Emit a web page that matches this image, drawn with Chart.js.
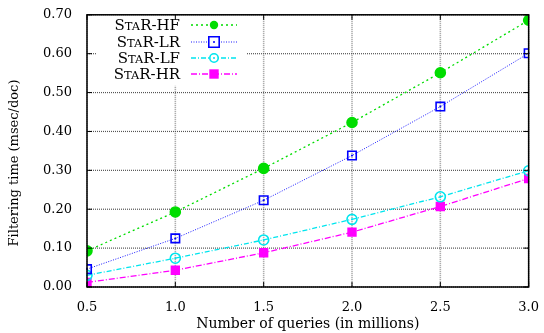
<!DOCTYPE html>
<html>
<head>
<meta charset="utf-8">
<script src="https://cdn.jsdelivr.net/npm/chart.js@4"></script>
<style>
  html, body { margin: 0; padding: 0; background: #fff; }
  #wrap { width: 544px; height: 333px; }
</style>
</head>
<body>
<div id="wrap"><canvas id="c" width="544" height="333"></canvas></div>
<script>
const queries = [0.5, 1.0, 1.5, 2.0, 2.5, 3.0];
const starHF = [0.093, 0.193, 0.305, 0.423, 0.551, 0.686];
const starLR = [0.046, 0.125, 0.223, 0.338, 0.464, 0.601];
const starLF = [0.030, 0.074, 0.121, 0.174, 0.232, 0.299];
const starHR = [0.012, 0.043, 0.088, 0.141, 0.207, 0.279];
const seriesNames = ["HF", "LR", "LF", "HR"];
const xTicks = [0.5, 1.0, 1.5, 2.0, 2.5, 3.0];
const yTicks = [0, 0.1, 0.2, 0.3, 0.4, 0.5, 0.6, 0.7];

const FONT = "'DejaVu Serif', 'Liberation Serif', serif";

const pts = (ys) => queries.map((x, i) => ({ x: x, y: ys[i] }));

const styles = [
  { color: "#00dd00", dash: [2, 3], width: 1.3, point: "circle", radius: 5, fill: true },
  { color: "#0000ff", dash: [1, 1.5], width: 0.9, point: "rect", radius: 6, fill: false },
  { color: "#00e5ee", dash: [5, 2, 1, 2], width: 1.3, point: "circle", radius: 5, fill: false },
  { color: "#ff00ff", dash: [6, 2, 1, 2], width: 1.3, point: "rect", radius: 5.5, fill: true },
];
const seriesData = [starHF, starLR, starLF, starHR];

// draws "StaR-xx" with small caps by hand, right aligned at x
function smallCapsLabel(ctx, suffix, right, y) {
  const big = "15px " + FONT, small = "11.5px " + FONT;
  const parts = [["S", big], ["TA", small], ["R-" + suffix, big]];
  let total = 0;
  parts.forEach(p => { ctx.font = p[1]; total += ctx.measureText(p[0]).width; });
  let x = right - total;
  ctx.textAlign = "left";
  ctx.textBaseline = "alphabetic";
  parts.forEach(p => {
    ctx.font = p[1];
    ctx.fillText(p[0], x, y + 5);
    x += ctx.measureText(p[0]).width;
  });
}

// gnuplot-like dotted grid, drawn under the data lines
const dotGrid = {
  id: "dotGrid",
  beforeDatasetsDraw(chart) {
    const ctx = chart.ctx;
    const a = chart.chartArea;
    const xs = chart.scales.x, ys = chart.scales.y;
    ctx.save();
    ctx.setLineDash([1, 1]);
    ctx.strokeStyle = "#9a9a9a";
    ctx.lineWidth = 1.6;
    xTicks.forEach(v => {
      const x = xs.getPixelForValue(v);
      ctx.beginPath(); ctx.moveTo(x, a.top); ctx.lineTo(x, a.bottom); ctx.stroke();
    });
    ctx.strokeStyle = "#555";
    ctx.lineWidth = 1.2;
    yTicks.forEach(v => {
      const y = ys.getPixelForValue(v);
      ctx.beginPath(); ctx.moveTo(a.left, y); ctx.lineTo(a.right, y); ctx.stroke();
    });
    // the key box hides the grid behind it
    ctx.fillStyle = "#fff";
    ctx.fillRect(97, a.top + 1, 150, 70);
    ctx.restore();
  }
};

// frame, inward ticks, centre dots, legend and y title
const frame = {
  id: "gnuframe",
  afterDatasetsDraw(chart) {
    const ctx = chart.ctx;
    const a = chart.chartArea;
    const xs = chart.scales.x, ys = chart.scales.y;
    ctx.save();
    [1, 2].forEach(di => {
      const meta = chart.getDatasetMeta(di);
      ctx.fillStyle = styles[di].color;
      meta.data.forEach(p => {
        ctx.beginPath();
        ctx.arc(p.x, p.y, 1, 0, Math.PI * 2);
        ctx.fill();
      });
    });
    ctx.strokeStyle = "#000";
    ctx.lineWidth = 1.5;
    ctx.setLineDash([]);
    ctx.strokeRect(a.left, a.top, a.right - a.left, a.bottom - a.top);
    ctx.lineWidth = 1;
    xTicks.forEach(v => {
      const x = xs.getPixelForValue(v);
      ctx.beginPath();
      ctx.moveTo(x, a.bottom); ctx.lineTo(x, a.bottom - 5);
      ctx.moveTo(x, a.top); ctx.lineTo(x, a.top + 5);
      ctx.stroke();
    });
    yTicks.forEach(v => {
      const y = ys.getPixelForValue(v);
      ctx.beginPath();
      ctx.moveTo(a.left, y); ctx.lineTo(a.left + 5, y);
      ctx.moveTo(a.right, y); ctx.lineTo(a.right - 5, y);
      ctx.stroke();
    });

    // legend
    const rowY = [25, 42, 58, 74];
    seriesNames.forEach((name, i) => {
      const s = styles[i];
      const y = rowY[i];
      ctx.fillStyle = "#000";
      smallCapsLabel(ctx, name, 180, y);
      ctx.strokeStyle = s.color;
      ctx.lineWidth = s.width;
      ctx.setLineDash(s.dash);
      ctx.beginPath();
      ctx.moveTo(191, y); ctx.lineTo(237, y);
      ctx.stroke();
      ctx.setLineDash([]);
      const mx = 214;
      const r = s.radius - 0.8;
      ctx.lineWidth = 1.6;
      ctx.strokeStyle = s.color;
      ctx.beginPath();
      if (s.point === "circle") ctx.arc(mx, y, r, 0, Math.PI * 2);
      else ctx.rect(mx - r, y - r, r * 2, r * 2);
      if (s.fill) { ctx.fillStyle = s.color; ctx.fill(); }
      else { ctx.fillStyle = "#fff"; ctx.fill(); ctx.stroke(); }
      if (!s.fill) {
        ctx.fillStyle = s.color;
        ctx.beginPath(); ctx.arc(mx, y, 1, 0, Math.PI * 2); ctx.fill();
      }
    });

    // y axis title
    ctx.translate(15, 163);
    ctx.rotate(-Math.PI / 2);
    ctx.font = "13px " + FONT;
    ctx.fillStyle = "#000";
    ctx.textAlign = "center";
    ctx.textBaseline = "middle";
    ctx.fillText("Filtering time (msec/doc)", 0, 0);
    ctx.restore();
  }
};

new Chart(document.getElementById("c"), {
  type: "line",
  data: {
    datasets: seriesData.map((d, i) => ({
      label: "StaR-" + seriesNames[i],
      data: pts(d),
      borderColor: styles[i].color,
      borderWidth: styles[i].width,
      borderDash: styles[i].dash,
      pointStyle: styles[i].point,
      pointRadius: styles[i].radius,
      pointBorderWidth: 1.6,
      pointBorderColor: styles[i].color,
      pointBackgroundColor: styles[i].fill ? styles[i].color : "rgba(255,255,255,0)",
      tension: 0,
      fill: false,
    })),
  },
  options: {
    responsive: false,
    animation: false,
    layout: { padding: { top: 14, right: 7, left: 0, bottom: 0 } },
    plugins: { legend: { display: false }, tooltip: { enabled: false } },
    scales: {
      x: {
        type: "linear",
        min: 0.5,
        max: 3.0,
        afterBuildTicks: (s) => { s.ticks = xTicks.map(v => ({ value: v })); },
        afterFit: (s) => { s.height = 46; },
        ticks: {
          color: "#000",
          font: { family: FONT, size: 13 },
          padding: 5,
          callback: (v) => Number(v).toFixed(1),
        },
        grid: { display: false },
        border: { display: false },
        title: {
          display: true,
          text: "Number of queries (in millions)",
          color: "#000",
          font: { family: FONT, size: 14 },
          padding: { top: 5, bottom: 0 },
        },
      },
      y: {
        type: "linear",
        min: 0,
        max: 0.7,
        afterBuildTicks: (s) => { s.ticks = yTicks.map(v => ({ value: v })); },
        afterFit: (s) => { s.width = 87; },
        ticks: {
          color: "#000",
          font: { family: FONT, size: 13 },
          padding: 7,
          callback: (v) => Number(v).toFixed(2),
        },
        grid: { display: false },
        border: { display: false },
        title: { display: false },
      },
    },
  },
  plugins: [dotGrid, frame],
});
</script>
</body>
</html>
